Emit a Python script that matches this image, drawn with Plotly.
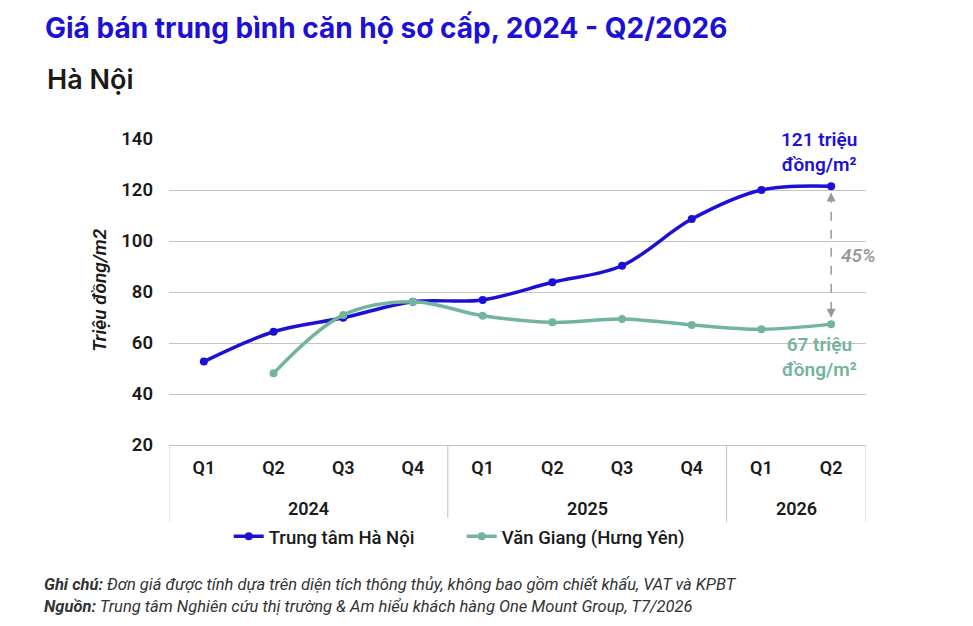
import plotly.graph_objects as go

# data
years = ["2024"] * 4 + ["2025"] * 4 + ["2026"] * 2
quarters = ["Q1", "Q2", "Q3", "Q4", "Q1", "Q2", "Q3", "Q4", "Q1", "Q2"]
ha_noi = [52.7, 64.4, 69.9, 76.2, 76.9, 83.8, 90.3, 108.6, 120.0, 121.5]
van_giang = [None, 48.1, 71.0, 76.2, 70.7, 68.1, 69.4, 67.1, 65.4, 67.4]
y_ticks = [20, 40, 60, 80, 100, 120, 140]

BLUE = "#1d10d6"
GREEN = "#72b59b"
GRID = "#c4c4c4"
FONT = "Roboto"

n = len(quarters)
xs = list(range(n))

fig = go.Figure()
fig.add_trace(go.Scatter(
    x=xs, y=ha_noi, name="Trung tâm Hà Nội",
    mode="lines+markers", line=dict(color=BLUE, width=3.5, shape="spline"),
    marker=dict(size=8, color=BLUE),
))
fig.add_trace(go.Scatter(
    x=xs, y=van_giang, name="Văn Giang (Hưng Yên)",
    mode="lines+markers", line=dict(color=GREEN, width=3.5, shape="spline"),
    marker=dict(size=8, color=GREEN),
))

# year groups under the quarter labels: dividers + labels
groups = []
for i, yr in enumerate(years):
    if not groups or groups[-1][0] != yr:
        groups.append([yr, i, i])
    else:
        groups[-1][2] = i
bounds = [groups[0][1] - 0.5] + [g[2] + 0.5 for g in groups]
for b in bounds:
    fig.add_shape(type="line", xref="x", yref="paper", x0=b, x1=b, y0=0, y1=-0.252,
                  line=dict(color=GRID, width=1))
for yr, i0, i1 in groups:
    fig.add_annotation(xref="x", yref="paper", x=(i0 + i1) / 2, y=-0.209,
                       xanchor="center", yanchor="middle", showarrow=False, text=yr,
                       font=dict(family=FONT, size=18, color="#1a1a1a", weight=600))

last = xs[-1]

# dashed double arrow between the two last values
fig.add_shape(type="line", xref="x", yref="y",
              x0=last, x1=last, y0=ha_noi[-1] - 3, y1=van_giang[-1] + 3,
              line=dict(color="#999999", width=1.5, dash="dash"))
for tip, off in [(ha_noi[-1] - 2.5, 10), (van_giang[-1] + 2.5, -10)]:
    fig.add_annotation(xref="x", yref="y", x=last, y=tip, ax=0, ay=off,
                       showarrow=True, arrowhead=2, arrowsize=1.2, arrowwidth=1.5,
                       arrowcolor="#999999", text="")

fig.add_annotation(xref="x", yref="y", x=last, y=ha_noi[-1], xshift=-12, yshift=8,
                   xanchor="center", yanchor="bottom", showarrow=False,
                   text="121 triệu<br>đồng/m²",
                   font=dict(family=FONT, size=19, color=BLUE, weight=600))
fig.add_annotation(xref="x", yref="y", x=last, y=van_giang[-1], xshift=-12, yshift=-7,
                   xanchor="center", yanchor="top", showarrow=False,
                   text="67 triệu<br>đồng/m²",
                   font=dict(family=FONT, size=19, color=GREEN, weight=600))
fig.add_annotation(xref="x", yref="y", x=last, y=(ha_noi[-1] + van_giang[-1]) / 2,
                   xshift=27, xanchor="center", yanchor="middle", showarrow=False,
                   text="<i>45%</i>",
                   font=dict(family=FONT, size=19, color="#999999", weight=600))

# y axis title
fig.add_annotation(xref="paper", yref="paper", x=-0.099, y=0.507, textangle=-90,
                   xanchor="center", yanchor="middle",
                   showarrow=False, text="<i>Triệu đồng/m2</i>",
                   font=dict(family=FONT, size=19, color="#1a1a1a", weight=600))

# subtitle
fig.add_annotation(xref="paper", yref="paper", x=-0.178, y=1.193, xanchor="left",
                   yanchor="middle", showarrow=False, text="Hà Nội",
                   font=dict(family="Inter", size=27, color="#1a1a1a", weight=600))

# footnotes
fig.add_annotation(xref="paper", yref="paper", x=-0.182, y=-0.4575, xanchor="left",
                   yanchor="middle", showarrow=False,
                   text="<b><i>Ghi chú:</i></b><i> Đơn giá được tính dựa trên diện tích thông thủy, "
                        "không bao gồm chiết khấu, VAT và KPBT</i>",
                   font=dict(family=FONT, size=16.5, color="#333333"))
fig.add_annotation(xref="paper", yref="paper", x=-0.182, y=-0.529, xanchor="left",
                   yanchor="middle", showarrow=False,
                   text="<b><i>Nguồn:</i></b><i> Trung tâm Nghiên cứu thị trường & Am hiểu "
                        "khách hàng One Mount Group, T7/2026</i>",
                   font=dict(family=FONT, size=16.5, color="#333333"))

# page body has an 8px default margin, so the figure is 8px smaller
W, H = 965, 618
fig.update_layout(
    width=W, height=H,
    margin=dict(l=161, r=107, t=131, b=181),
    paper_bgcolor="white", plot_bgcolor="white",
    title=dict(text="Giá bán trung bình căn hộ sơ cấp, 2024 - Q2/2026",
               xref="container", yref="container", x=37 / W, y=1 - 20 / H,
               xanchor="left", yanchor="middle",
               font=dict(family="Inter", size=28, color=BLUE, weight=700)),
    showlegend=True,
    legend=dict(orientation="h", xref="paper", yref="paper", x=0.42, y=-0.30,
                xanchor="center", yanchor="middle", entrywidth=188,
                font=dict(family=FONT, size=18.5, color="#1a1a1a", weight=500)),
    xaxis=dict(range=[-0.5, n - 0.5], tickvals=xs, ticktext=quarters,
               showgrid=False, zeroline=False, showline=True, linecolor=GRID,
               ticks="", ticklabelstandoff=6,
               tickfont=dict(family=FONT, size=18, color="#1a1a1a", weight=600)),
    yaxis=dict(range=[20, 140], tickvals=y_ticks, showgrid=True, gridcolor=GRID,
               gridwidth=1, zeroline=False, showline=False, ticklabelstandoff=15,
               tickfont=dict(family=FONT, size=18.5, color="#1a1a1a", weight=600)),
)

fig.write_html("out.html")
